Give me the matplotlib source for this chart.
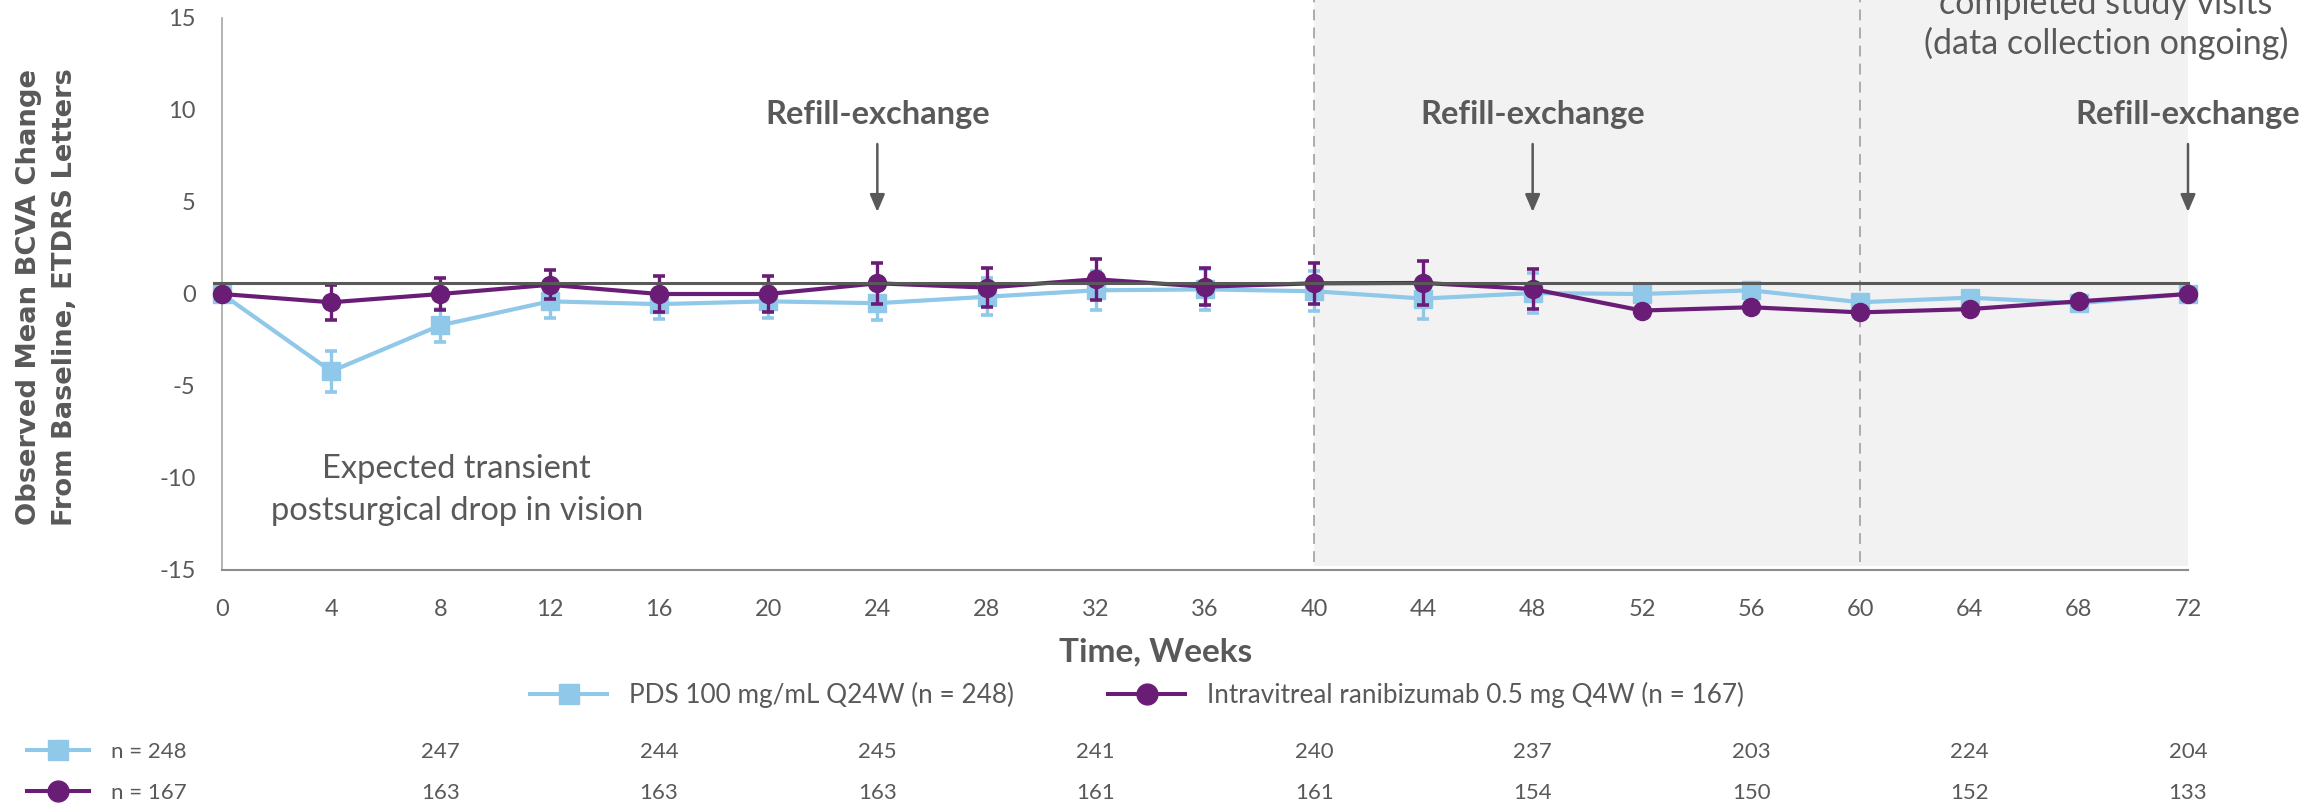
import numpy as np
import matplotlib
matplotlib.use("Agg")
import matplotlib.pyplot as plt
from matplotlib.lines import Line2D
from matplotlib.transforms import blended_transform_factory

plt.rcParams['font.family'] = ['Lato', 'DejaVu Sans']

# ---------------- data ----------------
weeks = [0, 4, 8, 12, 16, 20, 24, 28, 32, 36, 40, 44, 48, 52, 56, 60, 64, 68, 72]
pds_mean = [0.0, -4.2, -1.7, -0.4, -0.55, -0.4, -0.5, -0.15, 0.2, 0.25, 0.15, -0.25, 0.05,
            0.0, 0.2, -0.45, -0.2, -0.5, 0.0]
pds_err = [np.nan, 1.1, 0.9, 0.9, 0.8, 0.9, 0.9, 1.0, 1.05, 1.1, 1.1, 1.1, 1.1,
           np.nan, np.nan, np.nan, np.nan, np.nan, np.nan]
rani_mean = [0.0, -0.45, 0.0, 0.5, 0.0, 0.0, 0.58, 0.35, 0.8, 0.4, 0.58, 0.6, 0.27,
             -0.9, -0.72, -1.0, -0.82, -0.4, 0.0]
rani_err = [np.nan, 0.95, 0.88, 0.78, 1.0, 1.0, 1.1, 1.05, 1.1, 1.0, 1.1, 1.2, 1.1,
            np.nan, np.nan, np.nan, np.nan, np.nan, np.nan]
ref_line = 0.6

yticks = [15, 10, 5, 0, -5, -10, -15]
ytick_labels = ['15', '10', '5', '0', '-5', '-10', '-15']

n_weeks = [8, 16, 24, 32, 40, 48, 56, 64, 72]
pds_n = [247, 244, 245, 241, 240, 237, 203, 224, 204]
rani_n = [163, 163, 163, 161, 161, 154, 150, 152, 133]
pds_n0 = 248
rani_n0 = 167

refill_weeks = [24, 48, 72]
dashed_weeks = [40, 60]
shade_span = (40, 72)

pds_label = 'PDS 100 mg/mL Q24W (n = 248)'
rani_label = 'Intravitreal ranibizumab 0.5 mg Q4W (n = 167)'

# ---------------- style ----------------
W, H = 2321, 805
BLUE = '#8FC8E8'
PURPLE = '#6A1D76'
GRAY = '#595959'
LGRAY = '#A6A6A6'

fig = plt.figure(figsize=(W / 100, H / 100), dpi=100)
ax = fig.add_axes([222 / W, 1 - 570 / H, (2188 - 222) / W, (570 - 18) / H])
ax.set_xlim(0, 72)
ax.set_ylim(-15, 15)

# shaded region and dashed lines (extend above axes)
ax.axvspan(shade_span[0], shade_span[1], ymin=0.007, ymax=1.05, color='#F2F2F2',
           zorder=0, clip_on=False, lw=0)
for wk in dashed_weeks:
    ax.axvline(wk, ymin=0.015, ymax=1.05, color=LGRAY, lw=1.3, ls=(0, (6, 4)),
               zorder=0.5, clip_on=False)

# series
ax.errorbar(weeks, pds_mean, yerr=pds_err, fmt='none', ecolor=BLUE, elinewidth=2.4,
            capsize=4.5, capthick=2.6, zorder=2, clip_on=False)
ax.plot(weeks, pds_mean, color=BLUE, lw=3.0, marker='s', ms=12.5, mec=BLUE, mfc=BLUE,
        zorder=2.1, clip_on=False)
ax.errorbar(weeks, rani_mean, yerr=rani_err, fmt='none', ecolor=PURPLE, elinewidth=2.4,
            capsize=4.5, capthick=2.6, zorder=3, clip_on=False)
ax.plot(weeks, rani_mean, color=PURPLE, lw=3.0, marker='o', ms=13, mec=PURPLE,
        mfc=PURPLE, zorder=3.1, clip_on=False)

# reference line
ax.plot([-0.3, 72], [ref_line, ref_line], color=GRAY, lw=2.2, zorder=4, clip_on=False)

# spines & ticks
for s in ['top', 'right']:
    ax.spines[s].set_visible(False)
ax.spines['left'].set_color(LGRAY)
ax.spines['left'].set_linewidth(1.2)
ax.spines['bottom'].set_color('#8C8C8C')
ax.spines['bottom'].set_linewidth(1.5)
ax.set_xticks(weeks)
ax.set_xticklabels([str(w) for w in weeks])
ax.set_yticks(yticks)
ax.set_yticklabels(ytick_labels)
ax.tick_params(axis='both', length=0, labelsize=17, colors=GRAY)
ax.tick_params(axis='x', pad=21)
ax.tick_params(axis='y', pad=19)

# annotations
for wk in refill_weeks:
    ax.text(wk, 9.73, 'Refill-exchange', ha='center', va='center', fontsize=23.5,
            fontweight='bold', color=GRAY, clip_on=False)
    ax.annotate('', xy=(wk, 4.46), xytext=(wk, 8.15),
                arrowprops=dict(arrowstyle='-|>,head_length=0.7,head_width=0.3',
                                color=GRAY, lw=1.8, mutation_scale=15,
                                shrinkA=0, shrinkB=0), annotation_clip=False)

ax.text(8.6, -10.65, 'Expected transient\npostsurgical drop in vision', ha='center',
        va='center', fontsize=23.5, color=GRAY, linespacing=1.48)
ax.text(69.0, 14.68, 'completed study visits\n(data collection ongoing)', ha='center',
        va='center', fontsize=24.5, color=GRAY, linespacing=1.25, clip_on=False)

# axis titles
fig.text(47 / W, 1 - 297 / H, 'Observed Mean BCVA Change\nFrom Baseline, ETDRS Letters',
         rotation=90, ha='center', va='center', multialignment='center',
         fontsize=19.7, fontweight='bold', color=GRAY, family='DejaVu Sans',
         linespacing=1.5)
fig.text(1156 / W, 1 - 652 / H, 'Time, Weeks', ha='center', va='center', fontsize=24,
         fontweight='bold', color=GRAY)

# legend
h_pds = Line2D([], [], color=BLUE, lw=2.9, marker='s', ms=15, mfc=BLUE, mec=BLUE)
h_rani = Line2D([], [], color=PURPLE, lw=2.9, marker='o', ms=15, mfc=PURPLE, mec=PURPLE)
fig.legend([h_pds, h_rani], [pds_label, rani_label], loc='center left',
           bbox_to_anchor=(530 / W, 1 - 695 / H), ncol=2, frameon=False,
           fontsize=18.8, labelcolor=GRAY, borderpad=0, borderaxespad=0,
           handlelength=2.95, handletextpad=0.85, columnspacing=3.6)

# n-at-risk table
trans = blended_transform_factory(ax.transData, fig.transFigure)
for wk, a, b in zip(n_weeks, pds_n, rani_n):
    ax.text(wk, 1 - 752 / H, str(a), transform=trans, ha='center', va='center',
            fontsize=16, color=GRAY)
    ax.text(wk, 1 - 793 / H, str(b), transform=trans, ha='center', va='center',
            fontsize=16, color=GRAY)
for h, lab, yy in [(h_pds, f'n = {pds_n0}', 752), (h_rani, f'n = {rani_n0}', 793)]:
    fig.legend([h], [lab], loc='center left', bbox_to_anchor=(27 / W, 1 - yy / H),
               frameon=False, fontsize=16, labelcolor=GRAY, borderpad=0,
               borderaxespad=0, handlelength=2.8, handletextpad=1.0)

fig.savefig('out.png', dpi=100)
